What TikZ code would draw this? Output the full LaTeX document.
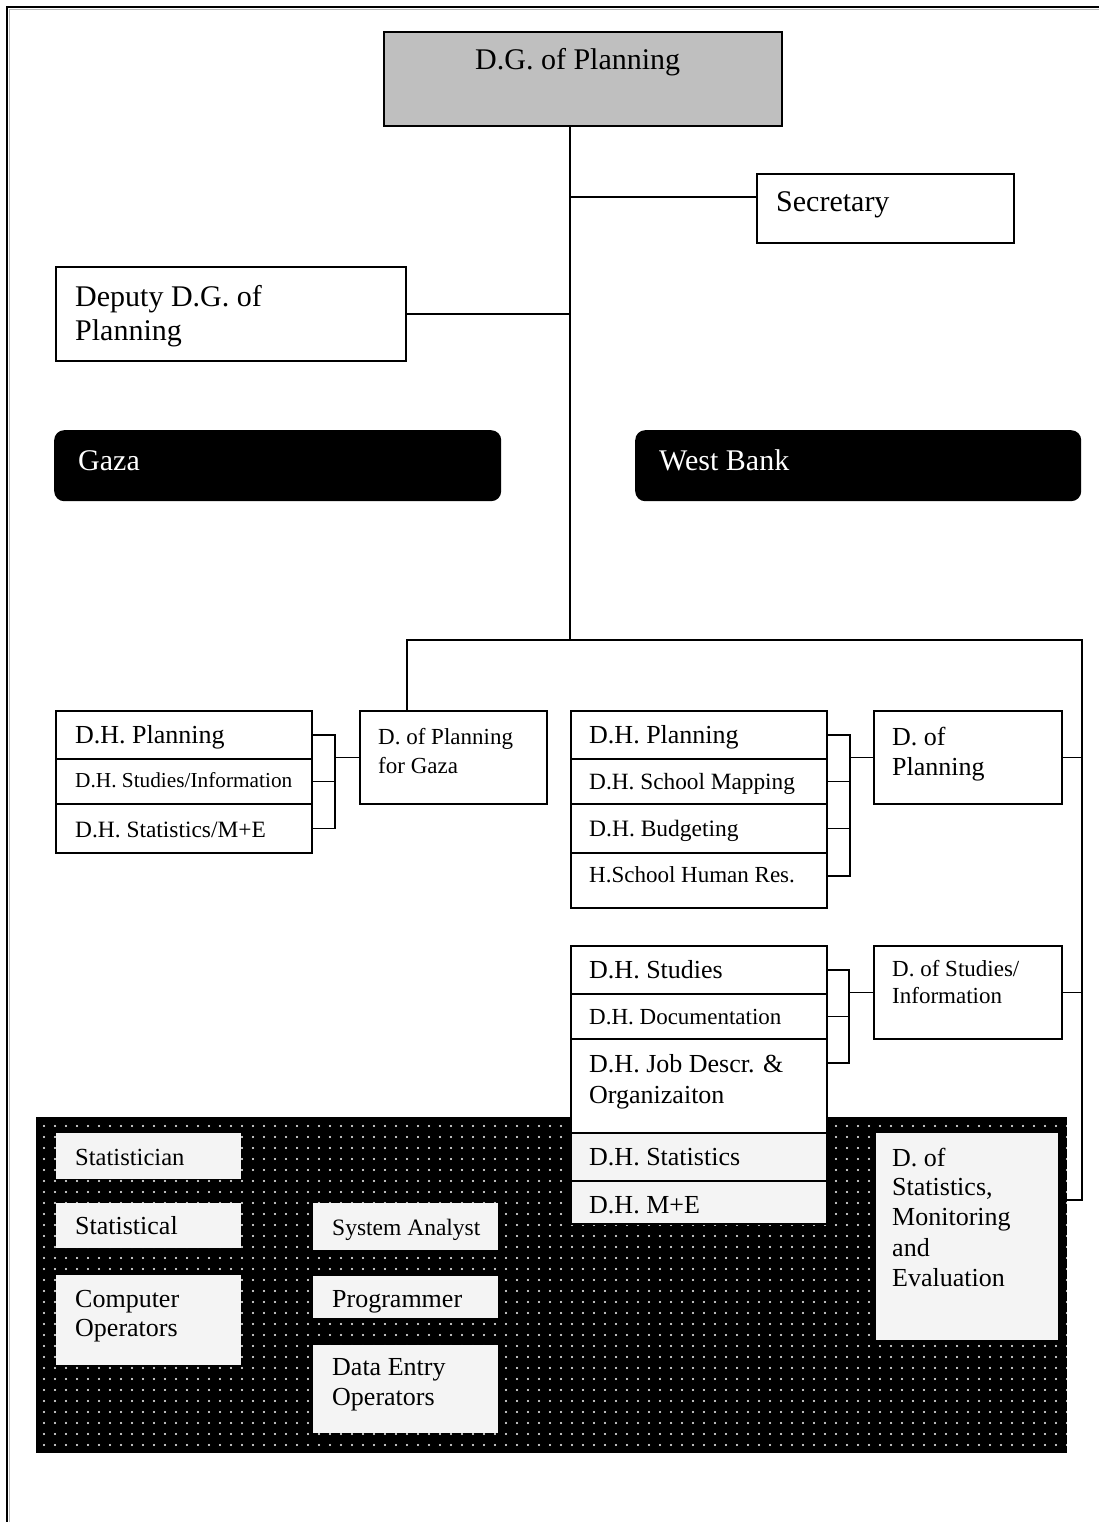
\documentclass[tikz,border=0pt]{standalone}
\usepackage{fontspec}
\setmainfont{Liberation Serif}
\usetikzlibrary{patterns.meta,calc}
\newcommand\fsz[1]{\fontsize{#1}{#1}\selectfont}
\begin{document}
\begin{tikzpicture}[x=1pt,y=-1pt,
  box/.style={draw,line width=1.6pt,inner sep=0pt,anchor=north west,fill=white},
  lbox/.style={fill=gray!9,inner sep=0pt,anchor=north west},
  band/.style={fill=black,rounded corners=10pt,inner sep=0pt,anchor=north west},
  txt/.style={anchor=base west,inner sep=0pt},
  conn/.style={line width=1.6pt}]
\useasboundingbox (0,0) rectangle (1099,1522);
% frame
\draw[line width=2.4pt] (7.2,1522) -- (7.2,7.2) -- (1099,7.2);
\draw[gray!55,line width=1.6pt] (9.4,1522) -- (9.4,9.4) -- (1099,9.4);

% dotted black panel
\node[anchor=north west,fill=black,inner sep=0pt,minimum width=1031pt,minimum height=336pt] (panel) at (36,1117) {};
\path[pattern={Dots[radius=1.1pt,distance=11pt]},pattern color=white] (panel.north west) rectangle (panel.south east);

% top level
\node[box,fill=black!25,minimum width=398pt,minimum height=94pt] (dg) at (383,31) {};
\node[box,minimum width=257pt,minimum height=69pt] (sec) at (756,173) {};
\node[box,minimum width=350pt,minimum height=94pt] (dep) at (55,266) {};
\node[band,minimum width=447pt,minimum height=71pt] (gaza) at (54,430) {};
\node[band,minimum width=446pt,minimum height=71pt] (wb) at (635,430) {};

% Gaza directorate
\node[box,minimum width=187pt,minimum height=93pt] (gp) at (359,710) {};
\node[box,minimum width=256pt,minimum height=48pt] (g1) at (55,710) {};
\node[box,minimum width=256pt,minimum height=45pt] (g2) at (55,758) {};
\node[box,minimum width=256pt,minimum height=49pt] (g3) at (55,803) {};

% West Bank planning
\node[box,minimum width=256pt,minimum height=48pt] (w1) at (570,710) {};
\node[box,minimum width=256pt,minimum height=45pt] (w2) at (570,758) {};
\node[box,minimum width=256pt,minimum height=49pt] (w3) at (570,803) {};
\node[box,minimum width=256pt,minimum height=55pt] (w4) at (570,852) {};
\node[box,minimum width=188pt,minimum height=93pt] (dp) at (873,710) {};

% Studies
\node[box,minimum width=256pt,minimum height=48pt] (s1) at (570,945) {};
\node[box,minimum width=256pt,minimum height=45pt] (s2) at (570,993) {};
\node[box,minimum width=256pt,minimum height=94pt] (s3) at (570,1038) {};
\node[box,fill=gray!9,minimum width=256pt,minimum height=48pt] (s4) at (570,1132) {};
\node[box,fill=gray!9,minimum width=256pt,minimum height=43pt] (s5) at (570,1180) {};
\node[box,minimum width=188pt,minimum height=93pt] (ds) at (873,945) {};

% light boxes in panel
\node[lbox,minimum width=185pt,minimum height=46pt] (st1) at (56,1133) {};
\node[lbox,minimum width=185pt,minimum height=45pt] (st2) at (56,1203) {};
\node[lbox,minimum width=185pt,minimum height=90pt] (st3) at (56,1275) {};
\node[lbox,minimum width=185pt,minimum height=47pt] (sa) at (313,1203) {};
\node[lbox,minimum width=185pt,minimum height=42pt] (pr) at (313,1276) {};
\node[lbox,minimum width=185pt,minimum height=88pt] (de) at (313,1345) {};
\node[lbox,minimum width=182pt,minimum height=207pt] (dsm) at (876,1133) {};

% connector points
\coordinate (j0) at (570,640);
\coordinate (jr) at (1082,640);
\coordinate (secw) at ($(sec.north west)+(0,24)$);
\coordinate (gpn) at ($(gp.north west)+(48,0)$);
\coordinate (dsme) at ($(dsm.north east)+(0,67)$);
\coordinate (w4e) at ($(w4.north east)+(0,24)$);
\coordinate (s3e) at ($(s3.north east)+(0,25)$);
\coordinate (gf) at ($(gp.west)+(-24,0)$);
\coordinate (wf) at ($(dp.west)+(-23,0)$);
\coordinate (sf) at ($(ds.west)+(-24,0)$);

% connectors
\draw[conn] (dg.south -| j0) -- (j0);
\draw[conn] (secw) -- (secw -| j0);
\draw[conn] (dep.east) -- (dep.east -| j0);
\draw[conn] (gpn) |- (jr) -- (dsme -| jr) -- (dsme);
\draw[conn] (dp.east) -- (dp.east -| jr);
\draw[conn] (ds.east) -- (ds.east -| jr);

\draw[conn] (gp.west) -- (gf);
\draw[conn] (g1.east) -- (g1.east -| gf) -- (g3.east -| gf) -- (g3.east);
\draw[conn] (g2.east) -- (g2.east -| gf);

\draw[conn] (dp.west) -- (wf);
\draw[conn] (w1.east) -- (w1.east -| wf) -- (w4e -| wf) -- (w4e);
\draw[conn] (w2.east) -- (w2.east -| wf);
\draw[conn] (w3.east) -- (w3.east -| wf);

\draw[conn] (ds.west) -- (sf);
\draw[conn] (s1.east) -- (s1.east -| sf) -- (s3e -| sf) -- (s3e);
\draw[conn] (s2.east) -- (s2.east -| sf);

% texts
\node[txt,font=\fsz{30}] (tdg) at (475,70) {D.G. of Planning};
\node[txt,font=\fsz{30}] (tsec) at (776,212) {Secretary};
\node[txt,font=\fsz{30}] (tdep1) at (75,306) {Deputy D.G. of};
\node[txt,font=\fsz{30}] (tdep2) at (75,340) {Planning};
\node[txt,font=\fsz{30},text=white] (tgaza) at (78,470) {Gaza};
\node[txt,font=\fsz{30},text=white] (twb) at (659,470) {West Bank};

\node[txt,font=\fsz{23}] (tgp1) at (378,744) {D. of Planning};
\node[txt,font=\fsz{23}] (tgp2) at (378,773) {for Gaza};
\node[txt,font=\fsz{26}] (tg1) at (75,743) {D.H. Planning};
\node[txt,font=\fsz{21.3}] (tg2) at (75,787) {D.H. Studies/Information};
\node[txt,font=\fsz{23.4}] (tg3) at (75,837) {D.H. Statistics/M+E};

\node[txt,font=\fsz{26}] (tw1) at (589,743) {D.H. Planning};
\node[txt,font=\fsz{23.3}] (tw2) at (589,789) {D.H. School Mapping};
\node[txt,font=\fsz{23.5}] (tw3) at (589,836) {D.H. Budgeting};
\node[txt,font=\fsz{23}] (tw4) at (589,882) {H.School Human Res.};
\node[txt,font=\fsz{26}] (tdp1) at (892,745) {D. of};
\node[txt,font=\fsz{26}] (tdp2) at (892,775) {Planning};

\node[txt,font=\fsz{26}] (ts1) at (589,978) {D.H. Studies};
\node[txt,font=\fsz{23}] (ts2) at (589,1024) {D.H. Documentation};
\node[txt,font=\fsz{26}] (ts3a) at (589,1072) {D.H. Job Descr. \&};
\node[txt,font=\fsz{26}] (ts3b) at (589,1103) {Organizaiton};
\node[txt,font=\fsz{26}] (ts4) at (589,1165) {D.H. Statistics};
\node[txt,font=\fsz{26}] (ts5) at (589,1213) {D.H. M+E};
\node[txt,font=\fsz{23}] (tds1) at (892,976) {D. of Studies/};
\node[txt,font=\fsz{23}] (tds2) at (892,1003) {Information};

\node[txt,font=\fsz{24.6}] (tst1) at (75,1165) {Statistician};
\node[txt,font=\fsz{26}] (tst2) at (75,1234) {Statistical};
\node[txt,font=\fsz{26}] (tst3a) at (75,1307) {Computer};
\node[txt,font=\fsz{26}] (tst3b) at (75,1336) {Operators};
\node[txt,font=\fsz{23.5}] (tsa) at (332,1235) {System Analyst};
\node[txt,font=\fsz{26}] (tpr) at (332,1307) {Programmer};
\node[txt,font=\fsz{26}] (tde1) at (332,1375) {Data Entry};
\node[txt,font=\fsz{26}] (tde2) at (332,1405) {Operators};
\node[txt,font=\fsz{26}] (tdsm1) at (892,1166) {D. of};
\node[txt,font=\fsz{26}] (tdsm2) at (892,1195) {Statistics,};
\node[txt,font=\fsz{26}] (tdsm3) at (892,1225) {Monitoring};
\node[txt,font=\fsz{26}] (tdsm4) at (892,1256) {and};
\node[txt,font=\fsz{26}] (tdsm5) at (892,1286) {Evaluation};
\end{tikzpicture}
\end{document}
